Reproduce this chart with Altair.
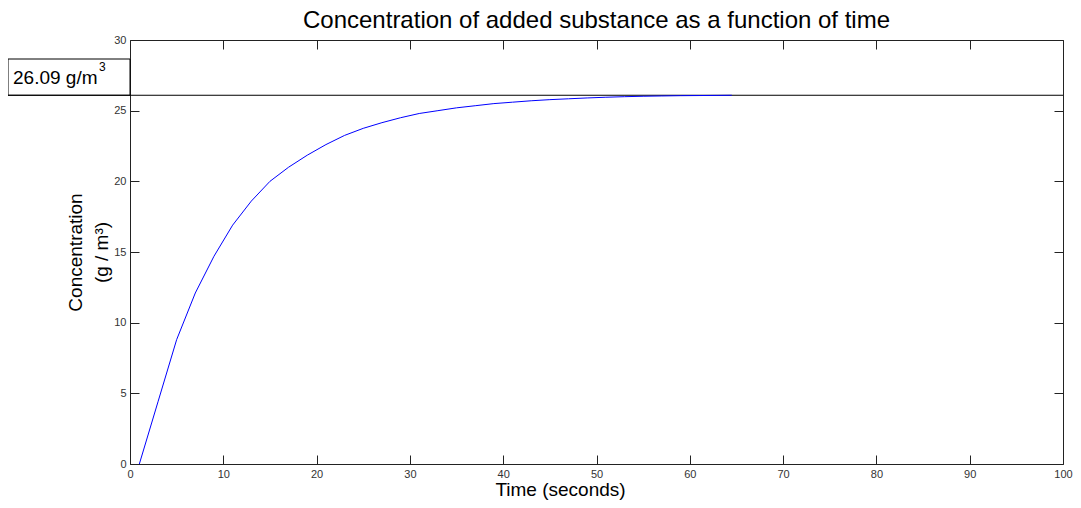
import altair as alt
import pandas as pd

# ---- data ----
time_s = [1, 3, 5, 7, 9, 11, 13, 15, 17, 19, 21, 23, 25, 27, 29, 31, 33,
          35, 37, 39, 41, 43, 45, 47, 49, 51, 53, 55, 57, 59, 61, 63, 64.5]
conc = [0.0, 4.4, 8.8, 12.1, 14.7, 16.9, 18.6, 20.0, 21.0, 21.85, 22.6, 23.25,
        23.75, 24.15, 24.5, 24.8, 25.0, 25.2, 25.35, 25.5, 25.6, 25.7, 25.78,
        25.84, 25.9, 25.95, 25.99, 26.02, 26.04, 26.06, 26.07, 26.08, 26.09]
final_value = 26.09
x_ticks = [0, 10, 20, 30, 40, 50, 60, 70, 80, 90, 100]
y_ticks = [0, 5, 10, 15, 20, 25, 30]
title_text = "Concentration of added substance as a function of time"
x_title = "Time (seconds)"
y_title = ["Concentration", "(g / m\u00b3)"]
label_main = f"{final_value:.2f} g/m"
label_sup = "3"

W, H = 933, 424
FONT = "Liberation Sans"

df = pd.DataFrame({"t": time_s, "c": conc})
xs = alt.Scale(domain=[0, 100], nice=False, zero=False)
ys = alt.Scale(domain=[0, 30], nice=False, zero=False)

base = alt.Chart(df)

common_axis = dict(domain=False, grid=False, labelFont=FONT, labelFontSize=11,
                   labelColor="#333333", tickColor="#222222", labelFlush=False)

# main line with labelled axes
line = base.mark_line(color="#0000FF", strokeWidth=1).encode(
    x=alt.X("t:Q", scale=xs, axis=alt.Axis(orient="bottom", values=x_ticks, tickSize=0,
                                           labelPadding=4, title=x_title, titleFont=FONT,
                                           titleFontSize=19, titleFontWeight="normal",
                                           titleColor="#000000", titlePadding=1,
                                           titleX=430, titleAlign="center",
                                           **common_axis)),
    y=alt.Y("c:Q", scale=ys, axis=alt.Axis(orient="left", values=y_ticks, tickSize=0,
                                           labelPadding=4, title=y_title, titleFont=FONT,
                                           titleFontSize=19, titleFontWeight="normal",
                                           titleColor="#000000", titleLineHeight=26,
                                           titlePadding=2, **common_axis)),
)

tick_axis = dict(labels=False, title=None, tickSize=9, domain=False, grid=False,
                 tickColor="#222222")

# inward ticks at bottom and left edges
ticks_a = base.mark_point(opacity=0).encode(
    x=alt.X("t:Q", scale=xs, axis=alt.Axis(orient="top", offset=-H, values=x_ticks, **tick_axis)),
    y=alt.Y("c:Q", scale=ys, axis=alt.Axis(orient="right", offset=-W, values=y_ticks, **tick_axis)),
)
# inward ticks at top and right edges
ticks_b = base.mark_point(opacity=0).encode(
    x=alt.X("t:Q", scale=xs, axis=alt.Axis(orient="bottom", offset=-H, values=x_ticks, **tick_axis)),
    y=alt.Y("c:Q", scale=ys, axis=alt.Axis(orient="left", offset=-W, values=y_ticks, **tick_axis)),
)

ann = pd.DataFrame({"v": [final_value], "label": [label_main], "sup": [label_sup]})
ann_base = alt.Chart(ann)

box = ann_base.mark_rect(fill="white", stroke="#000000", strokeWidth=1).encode(
    x=alt.value(-122), x2=alt.value(0),
    y=alt.Y("v:Q", scale=ys, axis=None), y2=alt.value(19),
)
rule = ann_base.mark_rule(color="#000000", strokeWidth=1).encode(
    x=alt.value(-122), x2=alt.value(W),
    y=alt.Y("v:Q", scale=ys, axis=None),
)
txt = ann_base.mark_text(align="left", baseline="alphabetic", font=FONT, fontSize=19,
                         color="#000000", dy=-11).encode(
    x=alt.value(-117),
    y=alt.Y("v:Q", scale=ys, axis=None),
    text="label:N",
)
sup = ann_base.mark_text(align="left", baseline="alphabetic", font=FONT, fontSize=12,
                         color="#000000", dy=-24).encode(
    x=alt.value(-31),
    y=alt.Y("v:Q", scale=ys, axis=None),
    text="sup:N",
)

chart = alt.layer(box, rule, line, ticks_a, ticks_b, txt, sup).resolve_axis(
    x="independent", y="independent"
).properties(
    width=W, height=H,
    title=alt.TitleParams(title_text, font=FONT, fontSize=24, fontWeight="normal",
                          color="#000000", anchor="middle", offset=1),
    autosize=alt.AutoSizeParams(type="none"),
    padding={"left": 122, "top": 32, "right": 10, "bottom": 36},
).configure_view(stroke="#222222", strokeWidth=1)

chart.save("out.html", embed_options={"renderer": "svg", "actions": False})
